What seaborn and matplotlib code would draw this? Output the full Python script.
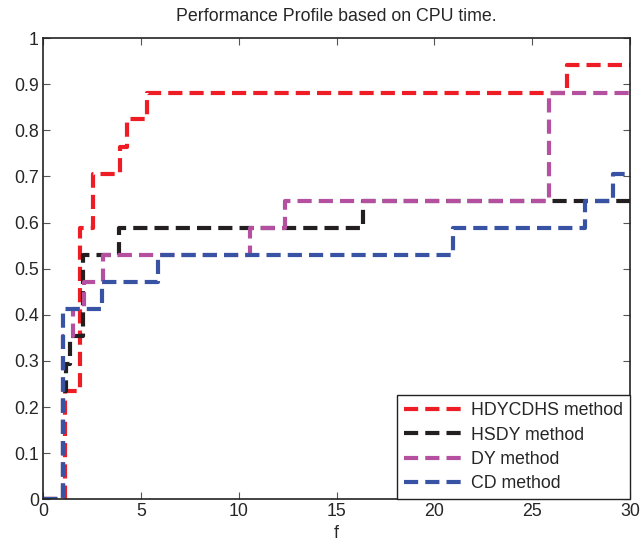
import matplotlib
matplotlib.use("Agg")
import matplotlib.pyplot as plt
import seaborn as sns
import pandas as pd

# step points (x where value starts, fraction of problems solved)
hdycdhs_x = [0, 1.15, 1.88, 2.55, 3.92, 4.3, 5.3, 26.8, 30]
hdycdhs_y = [0, 0.235, 0.588, 0.706, 0.765, 0.824, 0.882, 0.941, 0.941]

hsdy_x = [0, 1.05, 1.2, 1.38, 2.05, 3.9, 16.35, 30]
hsdy_y = [0, 0.235, 0.294, 0.353, 0.529, 0.588, 0.647, 0.647]

dy_x = [0, 1.02, 1.52, 2.12, 3.05, 10.6, 12.35, 25.85, 30]
dy_y = [0, 0.353, 0.412, 0.471, 0.529, 0.588, 0.647, 0.882, 0.882]

cd_x = [0, 1.0, 3.0, 5.9, 20.95, 27.7, 29.15, 30]
cd_y = [0, 0.412, 0.471, 0.529, 0.588, 0.647, 0.706, 0.706]

labels = ["HDYCDHS method", "HSDY method", "DY method", "CD method"]
colors = ["#ee1c25", "#231f20", "#b54f9f", "#3853a4"]

sns.set_style("white")
plt.rcParams["font.family"] = ["Liberation Sans", "DejaVu Sans"]
fs = 12.8

fig = plt.figure(figsize=(6.41, 5.45), dpi=100)
ax = fig.add_axes([0.067, 0.084, 0.916, 0.846])

series = [(hdycdhs_x, hdycdhs_y), (hsdy_x, hsdy_y), (dy_x, dy_y), (cd_x, cd_y)]
for (xs, ys), lab, col in zip(series, labels, colors):
    df = pd.DataFrame({"f": xs, "p": ys})
    sns.lineplot(data=df, x="f", y="p", ax=ax, estimator=None, sort=False,
                 drawstyle="steps-post", color=col, linewidth=3,
                 dashes=False, label=lab)
for line in ax.get_lines():
    line.set_dashes((3.4, 1.7))

ax.set_xlim(0, 30)
ax.set_ylim(0, 1)
ax.set_xticks(range(0, 31, 5))
ax.set_yticks([i / 10 for i in range(11)])
ax.set_yticklabels(["0", "0.1", "0.2", "0.3", "0.4", "0.5", "0.6", "0.7", "0.8", "0.9", "1"])
ax.tick_params(direction="in", length=5, width=0.8, labelsize=fs, pad=3,
               top=True, right=True, bottom=True, left=True, color="#555555")
for sp in ax.spines.values():
    sp.set_color("#222222")
    sp.set_linewidth(1.2)

ax.set_xlabel("f", fontsize=fs, labelpad=3)
ax.set_ylabel("")
ax.set_title("Performance Profile based on CPU time.", fontsize=fs, pad=12)

leg = ax.legend(loc="lower right", fontsize=fs, handlelength=3.5,
                frameon=True, fancybox=False, framealpha=1,
                borderaxespad=0.0, labelspacing=0.42, handletextpad=0.28,
                borderpad=0.38)
leg.get_frame().set_edgecolor("#222222")
leg.get_frame().set_linewidth(1.0)
for h in leg.get_lines():
    h.set_dashes((3.4, 1.7))

fig.savefig("out.png", dpi=100)
